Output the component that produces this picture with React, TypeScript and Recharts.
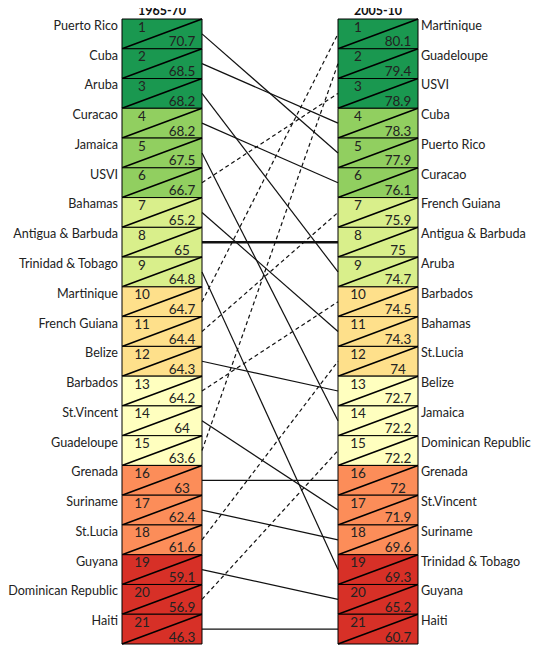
import React from 'react';
import {
    ComposedChart,
    XAxis,
    YAxis,
    Line,
    ReferenceArea,
} from 'recharts';

// Life expectancy ranking, 1965-70 vs 2005-10
const periods = ['1965-70', '2005-10'];

const countries1965 = [
    'Puerto Rico', 'Cuba', 'Aruba', 'Curacao', 'Jamaica', 'USVI', 'Bahamas',
    'Antigua & Barbuda', 'Trinidad & Tobago', 'Martinique', 'French Guiana', 'Belize',
    'Barbados', 'St.Vincent', 'Guadeloupe', 'Grenada', 'Suriname', 'St.Lucia',
    'Guyana', 'Dominican Republic', 'Haiti',
];
const values1965 = [
    70.7, 68.5, 68.2, 68.2, 67.5, 66.7, 65.2, 65, 64.8, 64.7, 64.4, 64.3,
    64.2, 64, 63.6, 63, 62.4, 61.6, 59.1, 56.9, 46.3,
];

const countries2005 = [
    'Martinique', 'Guadeloupe', 'USVI', 'Cuba', 'Puerto Rico', 'Curacao', 'French Guiana',
    'Antigua & Barbuda', 'Aruba', 'Barbados', 'Bahamas', 'St.Lucia', 'Belize',
    'Jamaica', 'Dominican Republic', 'Grenada', 'St.Vincent', 'Suriname',
    'Trinidad & Tobago', 'Guyana', 'Haiti',
];
const values2005 = [
    80.1, 79.4, 78.9, 78.3, 77.9, 76.1, 75.9, 75, 74.7, 74.5, 74.3, 74,
    72.7, 72.2, 72.2, 72, 71.9, 69.6, 69.3, 65.2, 60.7,
];

const highlighted = ['Antigua & Barbuda'];

// one colour per group of three ranks
const BAND_COLORS = ['#1a9850', '#91cf60', '#d9ef8b', '#fee08b', '#ffffbf', '#fc8d59', '#d73027'];

const ranks = countries1965.map((_c, i) => i + 1);

// column positions on the x axis (column width = 1)
const LEFT_COL = 0;
const RIGHT_COL = 2.7;
const COL_W = 1;

const FONT = 'Lato, "Noto Sans", sans-serif';

const links = countries1965.map((name, i) => {
    const from = i + 1;
    const to = countries2005.indexOf(name) + 1;
    return {
        name,
        from,
        to,
        data: [
            { x: LEFT_COL + COL_W, y: from },
            { x: RIGHT_COL, y: to },
        ],
    };
});

const CellLabel = (props: any) => {
    const vb = props.viewBox;
    if (!vb) return null;
    const { x, y, width, height } = vb;
    return (
        <g>
            <line x1={x} y1={y + height} x2={x + width} y2={y} stroke="#000" strokeWidth={1.6} />
            <text x={x + width * 0.25} y={y + 12.5} textAnchor="middle" fontSize={13.5} fontFamily={FONT} fill="#222">
                {props.rank}
            </text>
            <text x={x + width * 0.75} y={y + height - 2.5} textAnchor="middle" fontSize={13.5} fontFamily={FONT} fill="#222">
                {props.value}
            </text>
        </g>
    );
};

const LeftTick = (props: any) => {
    const { x, y, payload } = props;
    return (
        <text x={x} y={y - 4} textAnchor="end" fontSize={12.6} fontFamily={FONT} fill="#222">
            {countries1965[payload.value - 1]}
        </text>
    );
};

const RightTick = (props: any) => {
    const { x, y, payload } = props;
    return (
        <text x={x} y={y - 4} textAnchor="start" fontSize={12.6} fontFamily={FONT} fill="#222">
            {countries2005[payload.value - 1]}
        </text>
    );
};

const TitleTick = (props: any) => {
    const { x, payload } = props;
    const label = payload.value < 1.5 ? periods[0] : periods[1];
    return (
        <text x={x} y={15} textAnchor="middle" fontSize={12.5} fontWeight="bold" fontFamily={FONT} fill="#111">
            {label}
        </text>
    );
};

export default function App() {
    return (
        <div style={{ marginTop: -8 }}>
            <ComposedChart width={534} height={648} margin={{ top: 0, right: 0, bottom: 4, left: 0 }}>
                <XAxis
                    xAxisId="x"
                    dataKey="x"
                    type="number"
                    orientation="top"
                    domain={[0, RIGHT_COL + COL_W]}
                    ticks={[LEFT_COL + COL_W / 2, RIGHT_COL + COL_W / 2]}
                    height={19}
                    axisLine={false}
                    tickLine={false}
                    tickSize={0}
                    tickMargin={4}
                    tick={<TitleTick />}
                    allowDataOverflow
                />
                <YAxis
                    yAxisId="left"
                    type="number"
                    orientation="left"
                    domain={[0.5, 21.5]}
                    reversed
                    ticks={ranks}
                    interval={0}
                    width={114}
                    axisLine={false}
                    tickLine={false}
                    tickSize={0}
                    tickMargin={4}
                    tick={<LeftTick />}
                    allowDataOverflow
                />
                <YAxis
                    yAxisId="right"
                    type="number"
                    orientation="right"
                    domain={[0.5, 21.5]}
                    reversed
                    ticks={ranks}
                    interval={0}
                    width={124}
                    axisLine={false}
                    tickLine={false}
                    tickSize={0}
                    tickMargin={3}
                    tick={<RightTick />}
                    allowDataOverflow
                />

                {ranks.map((r, i) => (
                    <ReferenceArea
                        key={`l-${r}`}
                        xAxisId="x"
                        yAxisId="left"
                        x1={LEFT_COL}
                        x2={LEFT_COL + COL_W}
                        y1={r - 0.5}
                        y2={r + 0.5}
                        fill={BAND_COLORS[Math.floor(i / 3)]}
                        fillOpacity={1}
                        stroke="#000"
                        strokeWidth={1}
                        label={<CellLabel rank={r} value={values1965[i]} />}
                    />
                ))}
                {ranks.map((r, i) => (
                    <ReferenceArea
                        key={`r-${r}`}
                        xAxisId="x"
                        yAxisId="left"
                        x1={RIGHT_COL}
                        x2={RIGHT_COL + COL_W}
                        y1={r - 0.5}
                        y2={r + 0.5}
                        fill={BAND_COLORS[Math.floor(i / 3)]}
                        fillOpacity={1}
                        stroke="#000"
                        strokeWidth={1}
                        label={<CellLabel rank={r} value={values2005[i]} />}
                    />
                ))}

                {links.map((l) => {
                    const thick = highlighted.includes(l.name);
                    return (
                        <Line
                            key={l.name}
                            xAxisId="x"
                            yAxisId="left"
                            data={l.data}
                            dataKey="y"
                            stroke="#111"
                            strokeWidth={thick ? 2.6 : 1.2}
                            strokeDasharray={l.to < l.from ? '4 3' : undefined}
                            dot={false}
                            activeDot={false}
                            isAnimationActive={false}
                        />
                    );
                })}
            </ComposedChart>
        </div>
    );
}
